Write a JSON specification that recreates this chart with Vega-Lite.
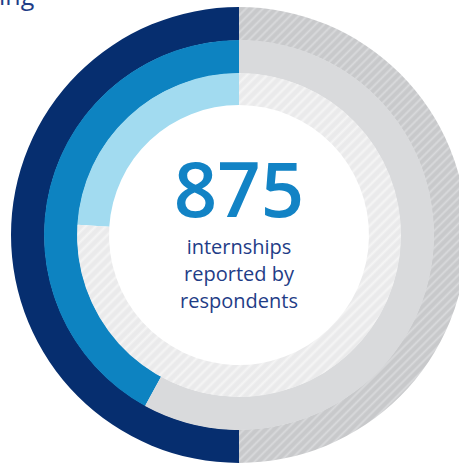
{
  "$schema": "https://vega.github.io/schema/vega-lite/v6.json",
  "width": 440,
  "height": 458,
  "autosize": "none",
  "padding": {"left": 19, "top": 6, "right": 0, "bottom": 0},
  "background": "white",
  "config": {"view": {"stroke": null}},
  "title": {"text": "ing", "anchor": "start", "frame": "group", "dx": -20, "dy": 22, "offset": -2, "baseline": "alphabetic", "fontSize": 25, "fontWeight": "normal", "font": "Open Sans", "color": "#1f3d87"},
  "data": {"values": [
    {"ring": "outer", "part": "share", "value": 50},
    {"ring": "outer", "part": "rest", "value": 50},
    {"ring": "middle", "part": "share", "value": 42},
    {"ring": "middle", "part": "rest", "value": 58},
    {"ring": "inner", "part": "share", "value": 24},
    {"ring": "inner", "part": "rest", "value": 76},
    {"ring": "center", "part": "count", "value": 875, "caption": "internships\nreported by\nrespondents"}
  ]},
  "layer": [
    {
      "transform": [{"filter": "datum.ring === 'outer'"}],
      "mark": {"type": "arc", "radius": 228, "radius2": 194.5},
      "encoding": {
        "theta": {"field": "value", "type": "quantitative", "stack": true, "scale": {"domain": [0, 100]}},
        "order": {"field": "part", "sort": "ascending"},
        "fill": {"condition": {"test": "datum.part === 'share'", "value": "#062e6f"},
          "value": {"gradient": "linear", "x1": 0, "y1": 0, "x2": 0.6, "y2": 1.2, "stops": [
{"offset":0,"color":"#d9dadc"},{"offset":0.00375,"color":"#c8c9cb"},{"offset":0.00875,"color":"#c8c9cb"},
{"offset":0.0125,"color":"#d9dadc"},{"offset":0.01625,"color":"#c8c9cb"},{"offset":0.02125,"color":"#c8c9cb"},
{"offset":0.025,"color":"#d9dadc"},{"offset":0.02875,"color":"#c8c9cb"},{"offset":0.03375,"color":"#c8c9cb"},
{"offset":0.0375,"color":"#d9dadc"},{"offset":0.04125,"color":"#c8c9cb"},{"offset":0.04625,"color":"#c8c9cb"},
{"offset":0.05,"color":"#d9dadc"},{"offset":0.05375,"color":"#c8c9cb"},{"offset":0.05875,"color":"#c8c9cb"},
{"offset":0.0625,"color":"#d9dadc"},{"offset":0.06625,"color":"#c8c9cb"},{"offset":0.07125,"color":"#c8c9cb"},
{"offset":0.075,"color":"#d9dadc"},{"offset":0.07875,"color":"#c8c9cb"},{"offset":0.08375,"color":"#c8c9cb"},
{"offset":0.0875,"color":"#d9dadc"},{"offset":0.09125,"color":"#c8c9cb"},{"offset":0.09625,"color":"#c8c9cb"},
{"offset":0.1,"color":"#d9dadc"},{"offset":0.10375,"color":"#c8c9cb"},{"offset":0.10875,"color":"#c8c9cb"},
{"offset":0.1125,"color":"#d9dadc"},{"offset":0.11625,"color":"#c8c9cb"},{"offset":0.12125,"color":"#c8c9cb"},
{"offset":0.125,"color":"#d9dadc"},{"offset":0.12875,"color":"#c8c9cb"},{"offset":0.13375,"color":"#c8c9cb"},
{"offset":0.1375,"color":"#d9dadc"},{"offset":0.14125,"color":"#c8c9cb"},{"offset":0.14625,"color":"#c8c9cb"},
{"offset":0.15,"color":"#d9dadc"},{"offset":0.15375,"color":"#c8c9cb"},{"offset":0.15875,"color":"#c8c9cb"},
{"offset":0.1625,"color":"#d9dadc"},{"offset":0.16625,"color":"#c8c9cb"},{"offset":0.17125,"color":"#c8c9cb"},
{"offset":0.175,"color":"#d9dadc"},{"offset":0.17875,"color":"#c8c9cb"},{"offset":0.18375,"color":"#c8c9cb"},
{"offset":0.1875,"color":"#d9dadc"},{"offset":0.19125,"color":"#c8c9cb"},{"offset":0.19625,"color":"#c8c9cb"},
{"offset":0.2,"color":"#d9dadc"},{"offset":0.20375,"color":"#c8c9cb"},{"offset":0.20875,"color":"#c8c9cb"},
{"offset":0.2125,"color":"#d9dadc"},{"offset":0.21625,"color":"#c8c9cb"},{"offset":0.22125,"color":"#c8c9cb"},
{"offset":0.225,"color":"#d9dadc"},{"offset":0.22875,"color":"#c8c9cb"},{"offset":0.23375,"color":"#c8c9cb"},
{"offset":0.2375,"color":"#d9dadc"},{"offset":0.24125,"color":"#c8c9cb"},{"offset":0.24625,"color":"#c8c9cb"},
{"offset":0.25,"color":"#d9dadc"},{"offset":0.25375,"color":"#c8c9cb"},{"offset":0.25875,"color":"#c8c9cb"},
{"offset":0.2625,"color":"#d9dadc"},{"offset":0.26625,"color":"#c8c9cb"},{"offset":0.27125,"color":"#c8c9cb"},
{"offset":0.275,"color":"#d9dadc"},{"offset":0.27875,"color":"#c8c9cb"},{"offset":0.28375,"color":"#c8c9cb"},
{"offset":0.2875,"color":"#d9dadc"},{"offset":0.29125,"color":"#c8c9cb"},{"offset":0.29625,"color":"#c8c9cb"},
{"offset":0.3,"color":"#d9dadc"},{"offset":0.30375,"color":"#c8c9cb"},{"offset":0.30875,"color":"#c8c9cb"},
{"offset":0.3125,"color":"#d9dadc"},{"offset":0.31625,"color":"#c8c9cb"},{"offset":0.32125,"color":"#c8c9cb"},
{"offset":0.325,"color":"#d9dadc"},{"offset":0.32875,"color":"#c8c9cb"},{"offset":0.33375,"color":"#c8c9cb"},
{"offset":0.3375,"color":"#d9dadc"},{"offset":0.34125,"color":"#c8c9cb"},{"offset":0.34625,"color":"#c8c9cb"},
{"offset":0.35,"color":"#d9dadc"},{"offset":0.35375,"color":"#c8c9cb"},{"offset":0.35875,"color":"#c8c9cb"},
{"offset":0.3625,"color":"#d9dadc"},{"offset":0.36625,"color":"#c8c9cb"},{"offset":0.37125,"color":"#c8c9cb"},
{"offset":0.375,"color":"#d9dadc"},{"offset":0.37875,"color":"#c8c9cb"},{"offset":0.38375,"color":"#c8c9cb"},
{"offset":0.3875,"color":"#d9dadc"},{"offset":0.39125,"color":"#c8c9cb"},{"offset":0.39625,"color":"#c8c9cb"},
{"offset":0.4,"color":"#d9dadc"},{"offset":0.40375,"color":"#c8c9cb"},{"offset":0.40875,"color":"#c8c9cb"},
{"offset":0.4125,"color":"#d9dadc"},{"offset":0.41625,"color":"#c8c9cb"},{"offset":0.42125,"color":"#c8c9cb"},
{"offset":0.425,"color":"#d9dadc"},{"offset":0.42875,"color":"#c8c9cb"},{"offset":0.43375,"color":"#c8c9cb"},
{"offset":0.4375,"color":"#d9dadc"},{"offset":0.44125,"color":"#c8c9cb"},{"offset":0.44625,"color":"#c8c9cb"},
{"offset":0.45,"color":"#d9dadc"},{"offset":0.45375,"color":"#c8c9cb"},{"offset":0.45875,"color":"#c8c9cb"},
{"offset":0.4625,"color":"#d9dadc"},{"offset":0.46625,"color":"#c8c9cb"},{"offset":0.47125,"color":"#c8c9cb"},
{"offset":0.475,"color":"#d9dadc"},{"offset":0.47875,"color":"#c8c9cb"},{"offset":0.48375,"color":"#c8c9cb"},
{"offset":0.4875,"color":"#d9dadc"},{"offset":0.49125,"color":"#c8c9cb"},{"offset":0.49625,"color":"#c8c9cb"},
{"offset":0.5,"color":"#d9dadc"},{"offset":0.50375,"color":"#c8c9cb"},{"offset":0.50875,"color":"#c8c9cb"},
{"offset":0.5125,"color":"#d9dadc"},{"offset":0.51625,"color":"#c8c9cb"},{"offset":0.52125,"color":"#c8c9cb"},
{"offset":0.525,"color":"#d9dadc"},{"offset":0.52875,"color":"#c8c9cb"},{"offset":0.53375,"color":"#c8c9cb"},
{"offset":0.5375,"color":"#d9dadc"},{"offset":0.54125,"color":"#c8c9cb"},{"offset":0.54625,"color":"#c8c9cb"},
{"offset":0.55,"color":"#d9dadc"},{"offset":0.55375,"color":"#c8c9cb"},{"offset":0.55875,"color":"#c8c9cb"},
{"offset":0.5625,"color":"#d9dadc"},{"offset":0.56625,"color":"#c8c9cb"},{"offset":0.57125,"color":"#c8c9cb"},
{"offset":0.575,"color":"#d9dadc"},{"offset":0.57875,"color":"#c8c9cb"},{"offset":0.58375,"color":"#c8c9cb"},
{"offset":0.5875,"color":"#d9dadc"},{"offset":0.59125,"color":"#c8c9cb"},{"offset":0.59625,"color":"#c8c9cb"},
{"offset":0.6,"color":"#d9dadc"},{"offset":0.60375,"color":"#c8c9cb"},{"offset":0.60875,"color":"#c8c9cb"},
{"offset":0.6125,"color":"#d9dadc"},{"offset":0.61625,"color":"#c8c9cb"},{"offset":0.62125,"color":"#c8c9cb"},
{"offset":0.625,"color":"#d9dadc"},{"offset":0.62875,"color":"#c8c9cb"},{"offset":0.63375,"color":"#c8c9cb"},
{"offset":0.6375,"color":"#d9dadc"},{"offset":0.64125,"color":"#c8c9cb"},{"offset":0.64625,"color":"#c8c9cb"},
{"offset":0.65,"color":"#d9dadc"},{"offset":0.65375,"color":"#c8c9cb"},{"offset":0.65875,"color":"#c8c9cb"},
{"offset":0.6625,"color":"#d9dadc"},{"offset":0.66625,"color":"#c8c9cb"},{"offset":0.67125,"color":"#c8c9cb"},
{"offset":0.675,"color":"#d9dadc"},{"offset":0.67875,"color":"#c8c9cb"},{"offset":0.68375,"color":"#c8c9cb"},
{"offset":0.6875,"color":"#d9dadc"},{"offset":0.69125,"color":"#c8c9cb"},{"offset":0.69625,"color":"#c8c9cb"},
{"offset":0.7,"color":"#d9dadc"},{"offset":0.70375,"color":"#c8c9cb"},{"offset":0.70875,"color":"#c8c9cb"},
{"offset":0.7125,"color":"#d9dadc"},{"offset":0.71625,"color":"#c8c9cb"},{"offset":0.72125,"color":"#c8c9cb"},
{"offset":0.725,"color":"#d9dadc"},{"offset":0.72875,"color":"#c8c9cb"},{"offset":0.73375,"color":"#c8c9cb"},
{"offset":0.7375,"color":"#d9dadc"},{"offset":0.74125,"color":"#c8c9cb"},{"offset":0.74625,"color":"#c8c9cb"},
{"offset":0.75,"color":"#d9dadc"},{"offset":0.75375,"color":"#c8c9cb"},{"offset":0.75875,"color":"#c8c9cb"},
{"offset":0.7625,"color":"#d9dadc"},{"offset":0.76625,"color":"#c8c9cb"},{"offset":0.77125,"color":"#c8c9cb"},
{"offset":0.775,"color":"#d9dadc"},{"offset":0.77875,"color":"#c8c9cb"},{"offset":0.78375,"color":"#c8c9cb"},
{"offset":0.7875,"color":"#d9dadc"},{"offset":0.79125,"color":"#c8c9cb"},{"offset":0.79625,"color":"#c8c9cb"},
{"offset":0.8,"color":"#d9dadc"},{"offset":0.80375,"color":"#c8c9cb"},{"offset":0.80875,"color":"#c8c9cb"},
{"offset":0.8125,"color":"#d9dadc"},{"offset":0.81625,"color":"#c8c9cb"},{"offset":0.82125,"color":"#c8c9cb"},
{"offset":0.825,"color":"#d9dadc"},{"offset":0.82875,"color":"#c8c9cb"},{"offset":0.83375,"color":"#c8c9cb"},
{"offset":0.8375,"color":"#d9dadc"},{"offset":0.84125,"color":"#c8c9cb"},{"offset":0.84625,"color":"#c8c9cb"},
{"offset":0.85,"color":"#d9dadc"},{"offset":0.85375,"color":"#c8c9cb"},{"offset":0.85875,"color":"#c8c9cb"},
{"offset":0.8625,"color":"#d9dadc"},{"offset":0.86625,"color":"#c8c9cb"},{"offset":0.87125,"color":"#c8c9cb"},
{"offset":0.875,"color":"#d9dadc"},{"offset":0.87875,"color":"#c8c9cb"},{"offset":0.88375,"color":"#c8c9cb"},
{"offset":0.8875,"color":"#d9dadc"},{"offset":0.89125,"color":"#c8c9cb"},{"offset":0.89625,"color":"#c8c9cb"},
{"offset":0.9,"color":"#d9dadc"},{"offset":0.90375,"color":"#c8c9cb"},{"offset":0.90875,"color":"#c8c9cb"},
{"offset":0.9125,"color":"#d9dadc"},{"offset":0.91625,"color":"#c8c9cb"},{"offset":0.92125,"color":"#c8c9cb"},
{"offset":0.925,"color":"#d9dadc"},{"offset":0.92875,"color":"#c8c9cb"},{"offset":0.93375,"color":"#c8c9cb"},
{"offset":0.9375,"color":"#d9dadc"},{"offset":0.94125,"color":"#c8c9cb"},{"offset":0.94625,"color":"#c8c9cb"},
{"offset":0.95,"color":"#d9dadc"},{"offset":0.95375,"color":"#c8c9cb"},{"offset":0.95875,"color":"#c8c9cb"},
{"offset":0.9625,"color":"#d9dadc"},{"offset":0.96625,"color":"#c8c9cb"},{"offset":0.97125,"color":"#c8c9cb"},
{"offset":0.975,"color":"#d9dadc"},{"offset":0.97875,"color":"#c8c9cb"},{"offset":0.98375,"color":"#c8c9cb"},
{"offset":0.9875,"color":"#d9dadc"},{"offset":0.99125,"color":"#c8c9cb"},{"offset":0.99625,"color":"#c8c9cb"},
{"offset":1,"color":"#d9dadc"}
          ]}}
      }
    },
    {
      "transform": [{"filter": "datum.ring === 'middle'"}],
      "mark": {"type": "arc", "radius": 195, "radius2": 161.5},
      "encoding": {
        "theta": {"field": "value", "type": "quantitative", "stack": true, "scale": {"domain": [0, 100]}},
        "order": {"field": "part", "sort": "ascending"},
        "fill": {"condition": {"test": "datum.part === 'share'", "value": "#0d83c1"}, "value": "#d9dadc"}
      }
    },
    {
      "transform": [{"filter": "datum.ring === 'inner'"}],
      "mark": {"type": "arc", "radius": 162, "radius2": 130},
      "encoding": {
        "theta": {"field": "value", "type": "quantitative", "stack": true, "scale": {"domain": [0, 100]}},
        "order": {"field": "part", "sort": "ascending"},
        "fill": {"condition": {"test": "datum.part === 'share'", "value": "#a2dbf0"},
          "value": {"gradient": "linear", "x1": 0, "y1": 0, "x2": 1.25, "y2": 1.25, "stops": [
{"offset":0,"color":"#f5f5f5"},{"offset":0.00375,"color":"#eaeaeb"},{"offset":0.00875,"color":"#eaeaeb"},
{"offset":0.0125,"color":"#f5f5f5"},{"offset":0.01625,"color":"#eaeaeb"},{"offset":0.02125,"color":"#eaeaeb"},
{"offset":0.025,"color":"#f5f5f5"},{"offset":0.02875,"color":"#eaeaeb"},{"offset":0.03375,"color":"#eaeaeb"},
{"offset":0.0375,"color":"#f5f5f5"},{"offset":0.04125,"color":"#eaeaeb"},{"offset":0.04625,"color":"#eaeaeb"},
{"offset":0.05,"color":"#f5f5f5"},{"offset":0.05375,"color":"#eaeaeb"},{"offset":0.05875,"color":"#eaeaeb"},
{"offset":0.0625,"color":"#f5f5f5"},{"offset":0.06625,"color":"#eaeaeb"},{"offset":0.07125,"color":"#eaeaeb"},
{"offset":0.075,"color":"#f5f5f5"},{"offset":0.07875,"color":"#eaeaeb"},{"offset":0.08375,"color":"#eaeaeb"},
{"offset":0.0875,"color":"#f5f5f5"},{"offset":0.09125,"color":"#eaeaeb"},{"offset":0.09625,"color":"#eaeaeb"},
{"offset":0.1,"color":"#f5f5f5"},{"offset":0.10375,"color":"#eaeaeb"},{"offset":0.10875,"color":"#eaeaeb"},
{"offset":0.1125,"color":"#f5f5f5"},{"offset":0.11625,"color":"#eaeaeb"},{"offset":0.12125,"color":"#eaeaeb"},
{"offset":0.125,"color":"#f5f5f5"},{"offset":0.12875,"color":"#eaeaeb"},{"offset":0.13375,"color":"#eaeaeb"},
{"offset":0.1375,"color":"#f5f5f5"},{"offset":0.14125,"color":"#eaeaeb"},{"offset":0.14625,"color":"#eaeaeb"},
{"offset":0.15,"color":"#f5f5f5"},{"offset":0.15375,"color":"#eaeaeb"},{"offset":0.15875,"color":"#eaeaeb"},
{"offset":0.1625,"color":"#f5f5f5"},{"offset":0.16625,"color":"#eaeaeb"},{"offset":0.17125,"color":"#eaeaeb"},
{"offset":0.175,"color":"#f5f5f5"},{"offset":0.17875,"color":"#eaeaeb"},{"offset":0.18375,"color":"#eaeaeb"},
{"offset":0.1875,"color":"#f5f5f5"},{"offset":0.19125,"color":"#eaeaeb"},{"offset":0.19625,"color":"#eaeaeb"},
{"offset":0.2,"color":"#f5f5f5"},{"offset":0.20375,"color":"#eaeaeb"},{"offset":0.20875,"color":"#eaeaeb"},
{"offset":0.2125,"color":"#f5f5f5"},{"offset":0.21625,"color":"#eaeaeb"},{"offset":0.22125,"color":"#eaeaeb"},
{"offset":0.225,"color":"#f5f5f5"},{"offset":0.22875,"color":"#eaeaeb"},{"offset":0.23375,"color":"#eaeaeb"},
{"offset":0.2375,"color":"#f5f5f5"},{"offset":0.24125,"color":"#eaeaeb"},{"offset":0.24625,"color":"#eaeaeb"},
{"offset":0.25,"color":"#f5f5f5"},{"offset":0.25375,"color":"#eaeaeb"},{"offset":0.25875,"color":"#eaeaeb"},
{"offset":0.2625,"color":"#f5f5f5"},{"offset":0.26625,"color":"#eaeaeb"},{"offset":0.27125,"color":"#eaeaeb"},
{"offset":0.275,"color":"#f5f5f5"},{"offset":0.27875,"color":"#eaeaeb"},{"offset":0.28375,"color":"#eaeaeb"},
{"offset":0.2875,"color":"#f5f5f5"},{"offset":0.29125,"color":"#eaeaeb"},{"offset":0.29625,"color":"#eaeaeb"},
{"offset":0.3,"color":"#f5f5f5"},{"offset":0.30375,"color":"#eaeaeb"},{"offset":0.30875,"color":"#eaeaeb"},
{"offset":0.3125,"color":"#f5f5f5"},{"offset":0.31625,"color":"#eaeaeb"},{"offset":0.32125,"color":"#eaeaeb"},
{"offset":0.325,"color":"#f5f5f5"},{"offset":0.32875,"color":"#eaeaeb"},{"offset":0.33375,"color":"#eaeaeb"},
{"offset":0.3375,"color":"#f5f5f5"},{"offset":0.34125,"color":"#eaeaeb"},{"offset":0.34625,"color":"#eaeaeb"},
{"offset":0.35,"color":"#f5f5f5"},{"offset":0.35375,"color":"#eaeaeb"},{"offset":0.35875,"color":"#eaeaeb"},
{"offset":0.3625,"color":"#f5f5f5"},{"offset":0.36625,"color":"#eaeaeb"},{"offset":0.37125,"color":"#eaeaeb"},
{"offset":0.375,"color":"#f5f5f5"},{"offset":0.37875,"color":"#eaeaeb"},{"offset":0.38375,"color":"#eaeaeb"},
{"offset":0.3875,"color":"#f5f5f5"},{"offset":0.39125,"color":"#eaeaeb"},{"offset":0.39625,"color":"#eaeaeb"},
{"offset":0.4,"color":"#f5f5f5"},{"offset":0.40375,"color":"#eaeaeb"},{"offset":0.40875,"color":"#eaeaeb"},
{"offset":0.4125,"color":"#f5f5f5"},{"offset":0.41625,"color":"#eaeaeb"},{"offset":0.42125,"color":"#eaeaeb"},
{"offset":0.425,"color":"#f5f5f5"},{"offset":0.42875,"color":"#eaeaeb"},{"offset":0.43375,"color":"#eaeaeb"},
{"offset":0.4375,"color":"#f5f5f5"},{"offset":0.44125,"color":"#eaeaeb"},{"offset":0.44625,"color":"#eaeaeb"},
{"offset":0.45,"color":"#f5f5f5"},{"offset":0.45375,"color":"#eaeaeb"},{"offset":0.45875,"color":"#eaeaeb"},
{"offset":0.4625,"color":"#f5f5f5"},{"offset":0.46625,"color":"#eaeaeb"},{"offset":0.47125,"color":"#eaeaeb"},
{"offset":0.475,"color":"#f5f5f5"},{"offset":0.47875,"color":"#eaeaeb"},{"offset":0.48375,"color":"#eaeaeb"},
{"offset":0.4875,"color":"#f5f5f5"},{"offset":0.49125,"color":"#eaeaeb"},{"offset":0.49625,"color":"#eaeaeb"},
{"offset":0.5,"color":"#f5f5f5"},{"offset":0.50375,"color":"#eaeaeb"},{"offset":0.50875,"color":"#eaeaeb"},
{"offset":0.5125,"color":"#f5f5f5"},{"offset":0.51625,"color":"#eaeaeb"},{"offset":0.52125,"color":"#eaeaeb"},
{"offset":0.525,"color":"#f5f5f5"},{"offset":0.52875,"color":"#eaeaeb"},{"offset":0.53375,"color":"#eaeaeb"},
{"offset":0.5375,"color":"#f5f5f5"},{"offset":0.54125,"color":"#eaeaeb"},{"offset":0.54625,"color":"#eaeaeb"},
{"offset":0.55,"color":"#f5f5f5"},{"offset":0.55375,"color":"#eaeaeb"},{"offset":0.55875,"color":"#eaeaeb"},
{"offset":0.5625,"color":"#f5f5f5"},{"offset":0.56625,"color":"#eaeaeb"},{"offset":0.57125,"color":"#eaeaeb"},
{"offset":0.575,"color":"#f5f5f5"},{"offset":0.57875,"color":"#eaeaeb"},{"offset":0.58375,"color":"#eaeaeb"},
{"offset":0.5875,"color":"#f5f5f5"},{"offset":0.59125,"color":"#eaeaeb"},{"offset":0.59625,"color":"#eaeaeb"},
{"offset":0.6,"color":"#f5f5f5"},{"offset":0.60375,"color":"#eaeaeb"},{"offset":0.60875,"color":"#eaeaeb"},
{"offset":0.6125,"color":"#f5f5f5"},{"offset":0.61625,"color":"#eaeaeb"},{"offset":0.62125,"color":"#eaeaeb"},
{"offset":0.625,"color":"#f5f5f5"},{"offset":0.62875,"color":"#eaeaeb"},{"offset":0.63375,"color":"#eaeaeb"},
{"offset":0.6375,"color":"#f5f5f5"},{"offset":0.64125,"color":"#eaeaeb"},{"offset":0.64625,"color":"#eaeaeb"},
{"offset":0.65,"color":"#f5f5f5"},{"offset":0.65375,"color":"#eaeaeb"},{"offset":0.65875,"color":"#eaeaeb"},
{"offset":0.6625,"color":"#f5f5f5"},{"offset":0.66625,"color":"#eaeaeb"},{"offset":0.67125,"color":"#eaeaeb"},
{"offset":0.675,"color":"#f5f5f5"},{"offset":0.67875,"color":"#eaeaeb"},{"offset":0.68375,"color":"#eaeaeb"},
{"offset":0.6875,"color":"#f5f5f5"},{"offset":0.69125,"color":"#eaeaeb"},{"offset":0.69625,"color":"#eaeaeb"},
{"offset":0.7,"color":"#f5f5f5"},{"offset":0.70375,"color":"#eaeaeb"},{"offset":0.70875,"color":"#eaeaeb"},
{"offset":0.7125,"color":"#f5f5f5"},{"offset":0.71625,"color":"#eaeaeb"},{"offset":0.72125,"color":"#eaeaeb"},
{"offset":0.725,"color":"#f5f5f5"},{"offset":0.72875,"color":"#eaeaeb"},{"offset":0.73375,"color":"#eaeaeb"},
{"offset":0.7375,"color":"#f5f5f5"},{"offset":0.74125,"color":"#eaeaeb"},{"offset":0.74625,"color":"#eaeaeb"},
{"offset":0.75,"color":"#f5f5f5"},{"offset":0.75375,"color":"#eaeaeb"},{"offset":0.75875,"color":"#eaeaeb"},
{"offset":0.7625,"color":"#f5f5f5"},{"offset":0.76625,"color":"#eaeaeb"},{"offset":0.77125,"color":"#eaeaeb"},
{"offset":0.775,"color":"#f5f5f5"},{"offset":0.77875,"color":"#eaeaeb"},{"offset":0.78375,"color":"#eaeaeb"},
{"offset":0.7875,"color":"#f5f5f5"},{"offset":0.79125,"color":"#eaeaeb"},{"offset":0.79625,"color":"#eaeaeb"},
{"offset":0.8,"color":"#f5f5f5"},{"offset":0.80375,"color":"#eaeaeb"},{"offset":1,"color":"#eaeaeb"}
          ]}}
      }
    },
    {
      "transform": [{"filter": "datum.ring === 'center'"}],
      "mark": {"type": "text", "font": "Open Sans", "fontSize": 76, "fontWeight": 600, "color": "#1283c5", "baseline": "alphabetic", "align": "center", "dy": -18},
      "encoding": {"text": {"field": "value", "type": "quantitative", "format": "d"}}
    },
    {
      "transform": [{"filter": "datum.ring === 'center'"}],
      "mark": {"type": "text", "font": "Open Sans", "fontSize": 20, "color": "#1f3d87", "baseline": "alphabetic", "align": "center", "dy": 19, "lineHeight": 26.8, "lineBreak": "\n"},
      "encoding": {"text": {"field": "caption", "type": "nominal"}}
    }
  ]
}
